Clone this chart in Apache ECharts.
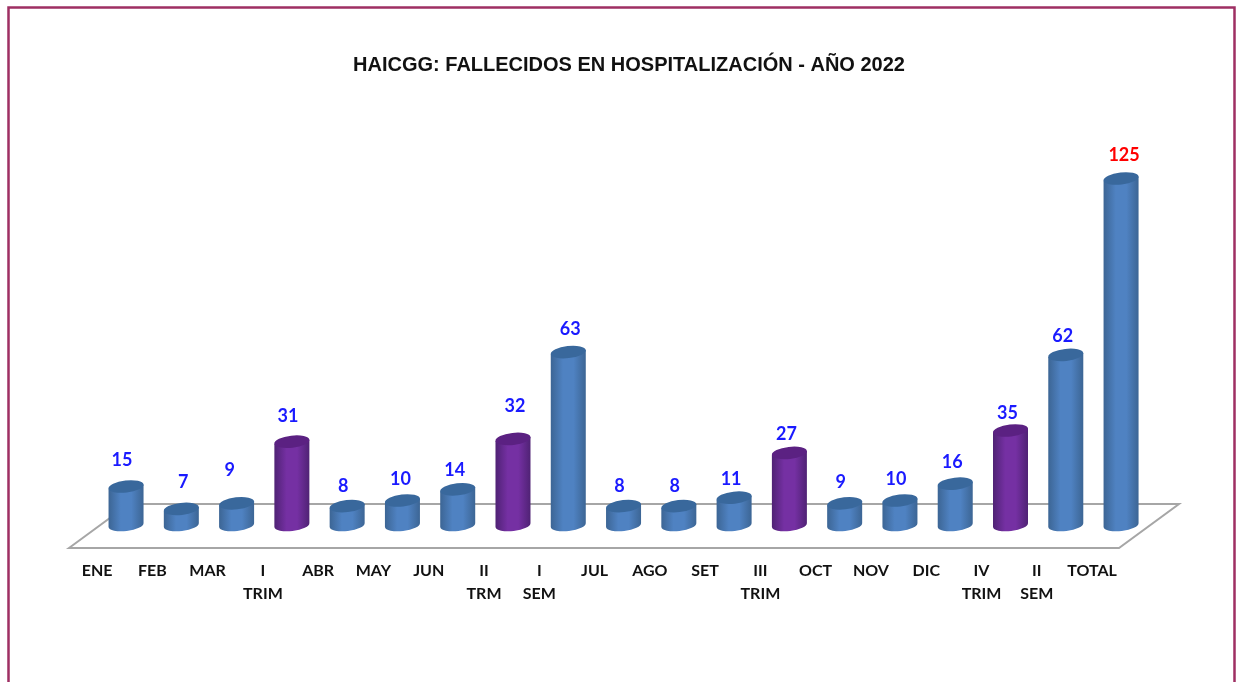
<!DOCTYPE html>
<html>
<head>
<meta charset="utf-8">
<style>
  html, body { margin: 0; padding: 0; background: #fff; overflow: hidden; }
  #chart { width: 1237px; height: 682px; }
</style>
<script src="https://cdn.jsdelivr.net/npm/echarts@6/dist/echarts.min.js"></script>
</head>
<body>
<div id="chart"></div>
<script>
const chartTitle = 'HAICGG: FALLECIDOS EN HOSPITALIZACIÓN - AÑO 2022'
const categories = ['ENE', 'FEB', 'MAR', 'I\nTRIM', 'ABR', 'MAY', 'JUN', 'II\nTRM', 'I\nSEM', 'JUL', 'AGO', 'SET', 'III\nTRIM', 'OCT', 'NOV', 'DIC', 'IV\nTRIM', 'II\nSEM', 'TOTAL']
const values = [15, 7, 9, 31, 8, 10, 14, 32, 63, 8, 8, 11, 27, 9, 10, 16, 35, 62, 125]
const trimCategories = ['I\nTRIM', 'II\nTRM', 'III\nTRIM', 'IV\nTRIM']

// hand placement of the value labels, the original has them dragged around
const labelShiftX = [-4, 2, -7, -4, -4, -2, -3, 2, 2, -4, -4, -3, -3, -4, -4, -3, -3, -3, 3]
const labelShiftY = [26.5, 26.5, 33.5, 25.5, 19.5, 21.5, 19.5, 32.5, 22.5, 19.5, 19.5, 18.5, 18.5, 21.5, 21.5, 21.5, 17.5, 18.5, 23.5]

const blue = { edge: '#3c6594', mid: '#4f82c2', cap: '#39689c' }
const purple = { edge: '#4f2274', mid: '#7530a3', cap: '#5b2182' }

const BAR_W = 35
const RY = 6
const TILT = 2
const FOOT = 3.5

function renderBar(params, api) {
  const i = api.value(0)
  const v = api.value(1)
  const top = api.coord([i, v])
  const base = api.coord([i, 0])
  const rx = BAR_W / 2
  const l = top[0] - rx
  const r = top[0] + rx
  const foot = base[1] - FOOT
  const c = trimCategories.includes(categories[i]) ? purple : blue
  const arc = 'A' + rx + ' ' + RY + ' -6.5 0 0 '
  const body = 'M' + l + ' ' + (top[1] + TILT) + 'L' + l + ' ' + (foot + TILT) + arc + r + ' ' + (foot - TILT) + 'L' + r + ' ' + (top[1] - TILT) + 'Z'
  const cap = 'M' + l + ' ' + (top[1] + TILT) + arc + r + ' ' + (top[1] - TILT) + arc + l + ' ' + (top[1] + TILT) + 'Z'
  return {
    type: 'group',
    children: [
      {
        type: 'path',
        shape: { pathData: body },
        style: {
          fill: {
            type: 'linear', x: 0, y: 0, x2: 1, y2: 0,
            colorStops: [
              { offset: 0, color: c.edge },
              { offset: 0.35, color: c.mid },
              { offset: 0.65, color: c.mid },
              { offset: 1, color: c.edge },
            ],
          },
        },
      },
      {
        type: 'path',
        shape: { pathData: cap },
        style: { fill: c.cap },
      },
      {
        type: 'text',
        x: top[0] + labelShiftX[i],
        y: top[1] - labelShiftY[i],
        style: {
          text: String(v),
          fill: categories[i] === 'TOTAL' ? '#ff0000' : '#1a1aff',
          font: 'bold 18px Lato, sans-serif',
          textAlign: 'center',
          textVerticalAlign: 'middle',
        },
      },
    ],
  }
}

const chart = echarts.init(document.getElementById('chart'), null, { renderer: 'canvas' })
chart.setOption({
  animation: false,
  backgroundColor: '#fff',
  title: {
    text: chartTitle,
    left: 627,
    top: 50,
    textAlign: 'center',
    textStyle: { fontFamily: 'Liberation Sans', fontWeight: 'bold', fontSize: 20, color: '#111' },
  },
  grid: { left: 98.4, width: 1050.3, top: 178.5, height: 350 },
  xAxis: {
    type: 'category',
    data: categories,
    axisLine: { show: false },
    axisTick: { show: false },
    axisLabel: {
      interval: 0,
      margin: 31,
      padding: [0, 58, 0, 0],
      lineHeight: 23,
      color: '#111',
      fontFamily: 'Lato',
      fontWeight: 'bold',
      fontSize: 16,
    },
  },
  yAxis: { type: 'value', min: 0, max: 125, show: false },
  graphic: [
    {
      type: 'polygon',
      z: 0,
      shape: { points: [[69, 548], [129, 504], [1179, 504], [1119, 548]] },
      style: { fill: '#fff', stroke: '#a6a6a6', lineWidth: 2 },
    },
    {
      type: 'rect',
      z: 0,
      shape: { x: 8.5, y: 7.5, width: 1226, height: 700 },
      style: { fill: 'none', stroke: '#9e2f63', lineWidth: 2.5 },
    },
  ],
  series: [
    {
      type: 'custom',
      z: 5,
      renderItem: renderBar,
      encode: { x: 0, y: 1 },
      data: values.map((v, i) => [i, v]),
      clip: false,
    },
  ],
})
chart.setOption({ title: { left: 624 } })
</script>
</body>
</html>
